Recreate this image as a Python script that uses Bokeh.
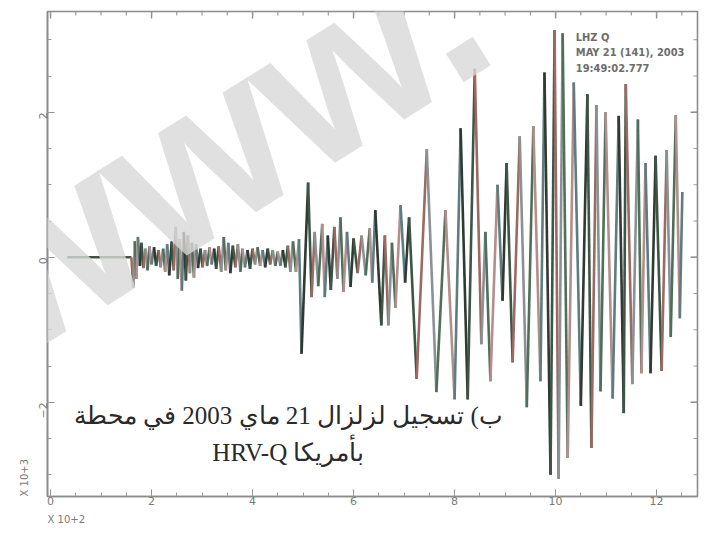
import math
from bokeh.plotting import figure
from bokeh.models import Range1d, FixedTicker, Label, Title, ColumnDataSource
from bokeh.embed import file_html
from bokeh.resources import INLINE

# turning points of the seismogram trace: time (x10^2 s) and amplitude
time_pts = [0.33, 1.60, 1.64, 1.67, 1.70, 1.73, 1.77, 1.80, 1.84, 1.88, 1.92, 1.96, 2.00, 2.05, 2.09,
            2.14, 2.18, 2.23, 2.27, 2.31, 2.35, 2.40, 2.44, 2.48, 2.52, 2.56, 2.60, 2.64, 2.68, 2.72,
            2.76, 2.80, 2.84, 2.88, 2.92, 2.97, 3.01, 3.06, 3.10, 3.15, 3.19, 3.24, 3.28, 3.33, 3.38,
            3.43, 3.47, 3.52, 3.56, 3.61, 3.66, 3.71, 3.76, 3.80, 3.85, 3.90, 3.95, 4.00, 4.05, 4.10,
            4.15, 4.20, 4.25, 4.30, 4.35, 4.40, 4.45, 4.50, 4.55, 4.60, 4.65, 4.70, 4.75, 4.80, 4.86,
            4.92, 4.97, 5.10, 5.17, 5.23, 5.30, 5.38, 5.43, 5.49, 5.55, 5.62, 5.68, 5.74, 5.80, 5.87,
            5.94, 6.00, 6.08, 6.16, 6.24, 6.32, 6.37, 6.43, 6.55, 6.62, 6.69, 6.76, 6.83, 6.93, 7.02,
            7.10, 7.25, 7.45, 7.64, 7.82, 8.00, 8.12, 8.26, 8.40, 8.53, 8.61, 8.71, 8.85, 8.95, 9.03,
            9.15, 9.29, 9.43, 9.56, 9.70, 9.78, 9.90, 9.98, 10.06, 10.14, 10.24, 10.36, 10.50, 10.63, 10.71,
            10.81, 10.89, 10.99, 11.13, 11.25, 11.35, 11.39, 11.52, 11.63, 11.70, 11.78, 11.88, 11.98, 12.10, 12.20,
            12.28, 12.38, 12.46, 12.51]
amp_pts = [0.00, 0.00, -0.42, 0.22, -0.30, 0.28, -0.12, 0.20, -0.15, 0.12, -0.18, 0.15, -0.10, 0.14, -0.12,
           0.10, -0.14, 0.12, -0.20, 0.18, -0.25, 0.22, -0.18, 0.42, -0.30, 0.25, -0.46, 0.35, -0.32, 0.30,
           -0.22, 0.20, -0.28, 0.18, -0.15, 0.12, -0.14, 0.10, -0.12, 0.14, -0.10, 0.12, -0.16, 0.15, -0.20,
           0.28, -0.18, 0.20, -0.22, 0.16, -0.14, 0.18, -0.20, 0.12, -0.14, 0.10, -0.16, 0.12, -0.10, 0.14,
           -0.12, 0.10, -0.14, 0.12, -0.10, 0.10, -0.12, 0.08, -0.12, 0.10, -0.14, 0.16, -0.20, 0.22, -0.20,
           0.25, -1.33, 1.03, -0.55, 0.35, -0.40, 0.46, -0.55, 0.30, -0.45, 0.42, -0.30, 0.55, -0.48, 0.35,
           -0.41, 0.26, -0.22, 0.30, -0.25, 0.40, -0.35, 0.65, -0.94, 0.30, -0.94, 0.20, -0.70, 0.72, -0.35,
           0.55, -1.68, 1.49, -1.86, 0.65, -1.96, 1.78, -1.96, 2.60, -1.20, 0.35, -1.71, 1.00, -0.60, 1.30,
           -1.45, 1.67, -2.07, 1.81, -1.71, 2.55, -3.00, 3.13, -3.06, 3.09, -2.77, 2.41, -2.05, 2.25, -2.63,
           2.10, -1.85, 2.00, -1.95, 1.95, -2.15, 2.39, -1.75, 1.90, -1.60, 1.30, -1.60, 1.40, -1.57, 1.48,
           -1.10, 1.96, -0.84, 0.90]

x_major = [0, 2, 4, 6, 8, 10, 12]
y_major = [-2, 0, 2]
x_scale_label = "X 10+2"
y_scale_label = "X 10+3"
station_lines = ["LHZ    Q", "MAY 21 (141), 2003", "19:49:02.777"]
caption_lines = ["ب) تسجيل لزلزال 21 ماي 2003 في محطة", "HRV-Q بأمريكا"]
watermark_text = "www."

X0, X1 = -0.06, 12.81
Y0, Y1 = -3.30, 3.39
FW, FH = 650, 485  # frame size in px

palette = ["#3e5446", "#9d6a62", "#8a9294", "#4f6f5a", "#b48e8a", "#5d7d80", "#2f3a33"]
n = len(time_pts) - 1
src = ColumnDataSource(dict(
    x0=time_pts[:-1], x1=time_pts[1:], y0=amp_pts[:-1], y1=amp_pts[1:],
    c=[palette[i % len(palette)] for i in range(n)],
))

p = figure(width=700, height=540, x_range=Range1d(X0, X1), y_range=Range1d(Y0, Y1),
           output_backend="svg", toolbar_location=None,
           min_border_left=47, min_border_right=3, min_border_top=11, min_border_bottom=44)
p.grid.visible = False
p.outline_line_color = "#8c8c8c"
p.outline_line_width = 1.6
p.background_fill_color = "white"
p.border_fill_color = "white"

p.segment(x0="x0", y0="y0", x1="x1", y1="y1", color="c", line_width=2.6, source=src)

x_minor = [i * 0.5 for i in range(0, 26)]
y_minor = [i * 0.5 for i in range(-6, 7)]

p.xaxis[0].ticker = FixedTicker(ticks=x_major, minor_ticks=x_minor)
p.yaxis[0].ticker = FixedTicker(ticks=y_major, minor_ticks=y_minor)

for ax in [p.xaxis[0], p.yaxis[0]]:
    ax.axis_line_color = "#8c8c8c"
    ax.axis_line_width = 1.6
    ax.major_tick_line_color = "#8c8c8c"
    ax.minor_tick_line_color = "#9a9a9a"
    ax.major_tick_in = 7
    ax.major_tick_out = 0
    ax.minor_tick_in = 4
    ax.minor_tick_out = 0
    ax.major_label_text_color = "#7a7a7a"
    ax.major_label_text_font_size = "11px"
    ax.major_label_text_font = "DejaVu Sans"

p.xaxis[0].major_label_standoff = 0
p.yaxis[0].major_label_standoff = 4
p.yaxis[0].major_label_orientation = math.pi / 2

# inward ticks on the top and right edges of the frame
ux = (X1 - X0) / FW
uy = (Y1 - Y0) / FH
p.segment(x0=x_major, x1=x_major, y0=[Y1] * len(x_major), y1=[Y1 - 7 * uy] * len(x_major),
          line_color="#8c8c8c", line_width=1.4)
p.segment(x0=x_minor, x1=x_minor, y0=[Y1] * len(x_minor), y1=[Y1 - 4 * uy] * len(x_minor),
          line_color="#9a9a9a", line_width=1.2)
p.segment(x0=[X1] * len(y_major), x1=[X1 - 7 * ux] * len(y_major), y0=y_major, y1=y_major,
          line_color="#8c8c8c", line_width=1.4)
p.segment(x0=[X1] * len(y_minor), x1=[X1 - 4 * ux] * len(y_minor), y0=y_minor, y1=y_minor,
          line_color="#9a9a9a", line_width=1.2)

# scale annotations outside the frame
p.add_layout(Title(text=x_scale_label, align="left", text_font_size="10px", text_color="#7a7a7a",
                   text_font="DejaVu Sans", text_font_style="normal", standoff=8), "below")
p.add_layout(Title(text=y_scale_label, align="left", text_font_size="10px", text_color="#7a7a7a",
                   text_font="DejaVu Sans", text_font_style="normal", standoff=6), "left")

# station block
for i, s in enumerate(station_lines):
    p.add_layout(Label(x=10.40, y=3.03 - i * 0.21, text=s, text_font_size="11px", text_font_style="bold",
                       text_color="#6d6d6d", text_font="DejaVu Sans Condensed", text_baseline="middle"))

# caption
for i, s in enumerate(caption_lines):
    p.add_layout(Label(x=4.71, y=-2.18 - i * 0.51, text=s, text_align="center", text_baseline="middle",
                       text_font_size="25px", text_color="#2a2a2a", text_font="Liberation Serif"))

# watermark over the trace (added last)
p.add_layout(Label(x=-76, y=198, x_units="screen", y_units="screen", text=watermark_text, angle=0.56,
                   text_font_size="225px", text_font_style="bold", text_color="#d8d8d8", text_alpha=0.8,
                   text_font="Liberation Sans", text_baseline="alphabetic"))

open("out.html", "w").write(file_html(p, INLINE))
